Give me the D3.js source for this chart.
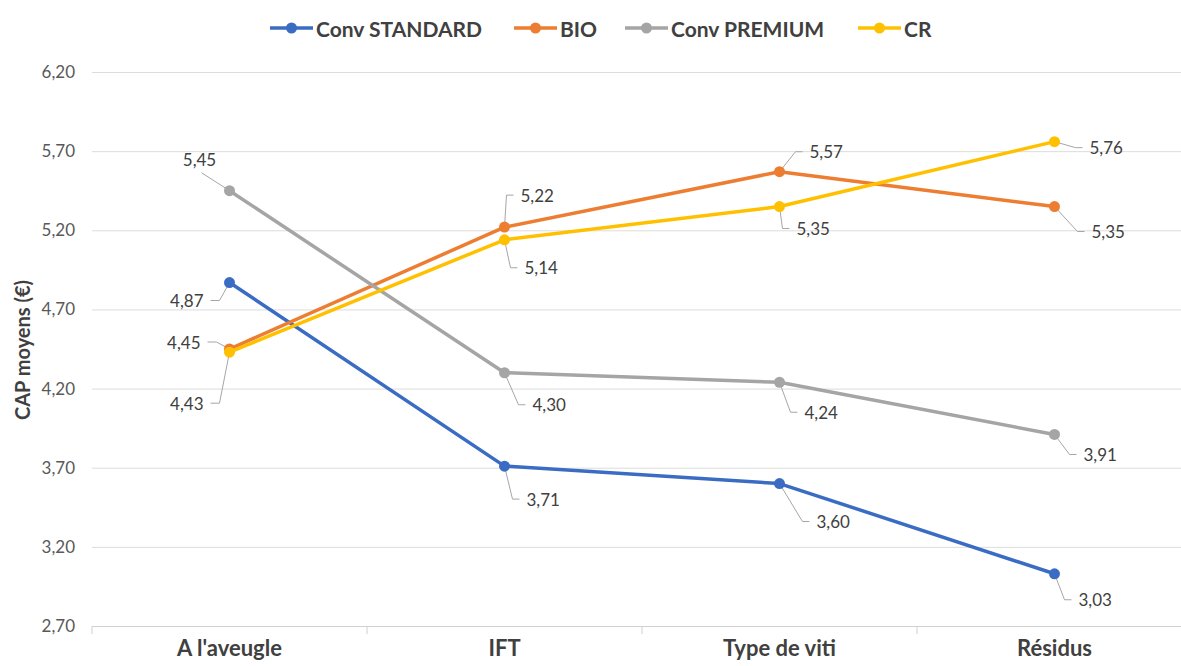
<!DOCTYPE html>
<html>
<head>
<meta charset="utf-8">
<script src="https://cdn.jsdelivr.net/npm/d3@7/dist/d3.min.js"></script>
<style>
  html, body { margin: 0; padding: 0; background: #ffffff; }
  svg { display: block; font-family: Lato, "Open Sans", sans-serif; }
</style>
</head>
<body>
<svg id="chart" width="1181" height="666"></svg>
<script>
// Categories (x axis)
const categories = ["A l'aveugle", "IFT", "Type de viti", "Résidus"];

// Mean willingness-to-pay per series
const seriesNames = ["Conv STANDARD", "BIO", "Conv PREMIUM", "CR"];
const convStandard = [4.87, 3.71, 3.60, 3.03];
const bio = [4.45, 5.22, 5.57, 5.35];
const convPremium = [5.45, 4.30, 4.24, 3.91];
const cr = [4.43, 5.14, 5.35, 5.76];

// Y axis ticks
const yTicks = [2.70, 3.20, 3.70, 4.20, 4.70, 5.20, 5.70, 6.20];
const yTitle = "CAP moyens (€)";

const colors = ["#3B6CC4", "#ED7D31", "#A5A5A5", "#FFC000"];

const series = seriesNames.map((name, i) => ({
  name,
  color: colors[i],
  values: [convStandard, bio, convPremium, cr][i]
}));

// Data label placement: side of the point and offset of the text anchor (px)
const labelLayout = {
  "Conv STANDARD": [["left", -26, 18], ["right", 22, 33], ["right", 37, 38], ["right", 24, 26]],
  "BIO":           [["left", -29, -7], ["right", 16, -32], ["right", 30, -20], ["right", 37, 25]],
  "Conv PREMIUM":  [["top", -30, -31], ["right", 28, 32], ["right", 25, 30], ["right", 29, 20]],
  "CR":            [["left", -26, 51], ["right", 20, 28], ["right", 17, 22], ["right", 35, 6]]
};

// Legend item left edges (px)
const legendX = [270, 514, 625, 858];

const fmt = d3.formatLocale({ decimal: ",", thousands: " ", grouping: [3], currency: ["", "€"] }).format(".2f");

const svg = d3.select("#chart");
const W = 1181, H = 666;
const plotLeft = 92, plotRight = 1192, plotTop = 72, plotBottom = 626;

const x = d3.scaleBand().domain(categories).range([plotLeft, plotRight]).padding(0);
const y = d3.scaleLinear().domain([2.7, 6.2]).range([plotBottom, plotTop]);
const cx = c => x(c) + x.bandwidth() / 2;

svg.append("rect").attr("width", W).attr("height", H).attr("fill", "#fff");

// Gridlines + y tick labels
const yAxis = d3.axisLeft(y)
  .tickValues(yTicks)
  .tickSize(-(plotRight - plotLeft))
  .tickPadding(17)
  .tickFormat(fmt);
const gy = svg.append("g").attr("transform", `translate(${plotLeft},0)`).call(yAxis);
gy.select(".domain").remove();
gy.selectAll(".tick line").attr("stroke", "#dcdcdc").attr("stroke-width", 1);
gy.selectAll(".tick text")
  .attr("fill", "#595959")
  .style("font-size", "17px")
  .style("font-family", "Lato, sans-serif");

// Category axis with ticks at band boundaries
const xAxis = d3.axisBottom(x).tickSize(0).tickPadding(14);
const gx = svg.append("g").attr("transform", `translate(0,${plotBottom})`).call(xAxis);
gx.select(".domain").attr("stroke", "#d0d0d0").attr("d", `M${plotLeft},0.5H${plotRight}`);
gx.selectAll(".tick text")
  .attr("fill", "#404040")
  .style("font-size", "22px")
  .style("font-weight", "700")
  .style("font-family", "Lato, sans-serif");
svg.append("g").selectAll("line")
  .data(categories.concat(["__end"]))
  .join("line")
  .attr("x1", (c, i) => i < categories.length ? x(c) : plotRight)
  .attr("x2", (c, i) => i < categories.length ? x(c) : plotRight)
  .attr("y1", plotBottom)
  .attr("y2", plotBottom + 8)
  .attr("stroke", "#d0d0d0");

// Y axis title
svg.append("text")
  .attr("transform", `translate(22,${(plotTop + plotBottom) / 2 + 1}) rotate(-90)`)
  .attr("text-anchor", "middle")
  .attr("dominant-baseline", "central")
  .attr("fill", "#404040")
  .style("font-size", "20px")
  .style("font-weight", "700")
  .text(yTitle);

// Leader lines and data labels
const labelG = svg.append("g");
series.forEach(s => {
  s.values.forEach((v, i) => {
    const [side, dx, dy] = labelLayout[s.name][i];
    const px = cx(categories[i]), py = y(v);
    const tx = px + dx, ty = py + dy;
    let path;
    const t = labelG.append("text")
      .attr("x", tx).attr("y", ty)
      .attr("dominant-baseline", "central")
      .attr("fill", "#404040")
      .style("font-size", "17px")
      .text(fmt(v));
    if (side === "right") {
      t.attr("text-anchor", "start");
      path = `M${px},${py}L${tx - 14},${ty}H${tx - 7}`;
    } else if (side === "left") {
      t.attr("text-anchor", "end");
      path = `M${px},${py}L${tx + 16},${ty}H${tx + 7}`;
    } else {
      t.attr("text-anchor", "middle");
      path = `M${px},${py}L${tx + 2},${ty + 13}`;
    }
    labelG.insert("path", "text")
      .attr("d", path)
      .attr("fill", "none")
      .attr("stroke", "#a6a6a6")
      .attr("stroke-width", 1);
  });
});

// Series lines and markers
const line = d3.line().x((d, i) => cx(categories[i])).y(d => y(d));
series.forEach(s => {
  const g = svg.append("g");
  g.append("path")
    .datum(s.values)
    .attr("d", line)
    .attr("fill", "none")
    .attr("stroke", s.color)
    .attr("stroke-width", 3.5)
    .attr("stroke-linejoin", "round")
    .attr("stroke-linecap", "round");
  g.selectAll("circle")
    .data(s.values)
    .join("circle")
    .attr("cx", (d, i) => cx(categories[i]))
    .attr("cy", d => y(d))
    .attr("r", 5.5)
    .attr("fill", s.color);
});

// Legend
const legend = svg.append("g").attr("transform", "translate(0,28)");
series.forEach((s, i) => {
  const item = legend.append("g").attr("transform", `translate(${legendX[i]},0)`);
  item.append("line").attr("x1", 0).attr("x2", 43).attr("y1", 0).attr("y2", 0)
    .attr("stroke", s.color).attr("stroke-width", 3.5);
  item.append("circle").attr("cx", 21.5).attr("cy", 0).attr("r", 5.5).attr("fill", s.color);
  item.append("text")
    .attr("x", 46).attr("y", 0)
    .attr("dominant-baseline", "central")
    .attr("fill", "#404040")
    .style("font-size", "21px")
    .style("font-weight", "700")
    .text(s.name);
});
</script>
</body>
</html>
